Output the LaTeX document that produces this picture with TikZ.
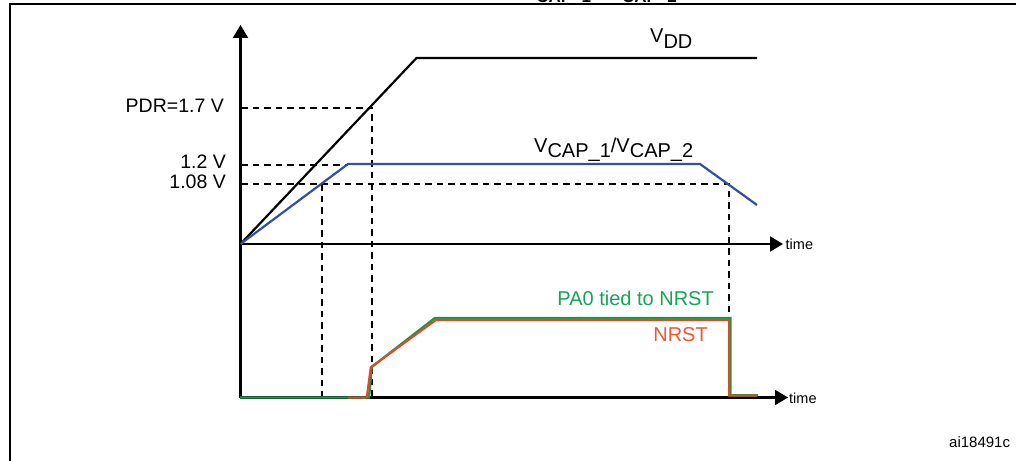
\documentclass[tikz,border=0pt]{standalone}
\usepackage{fontspec}
\setmainfont{Liberation Sans}
\usetikzlibrary{arrows.meta}
\definecolor{vcapblue}{RGB}{50,80,160}
\definecolor{pagreen}{RGB}{30,150,70}
\definecolor{nrstred}{RGB}{226,72,40}
\definecolor{patext}{RGB}{20,165,85}
\definecolor{nrsttext}{RGB}{232,90,50}
\tikzset{
  axisline/.style={line width=2.1pt,black},
  axishead/.style={-{Triangle[length=13pt,width=15pt]}},
  guide/.style={line width=2pt,black,dash pattern=on 6.5pt off 5pt},
  vddline/.style={line width=2.2pt,black,line join=miter},
  capline/.style={line width=2.2pt,vcapblue},
  paline/.style={line width=2.4pt,pagreen},
  nrstline/.style={line width=2pt,nrstred},
  lab/.style={inner sep=0pt,font=\fontsize{19.5}{19.5}\selectfont},
  siglab/.style={inner sep=0pt,font=\fontsize{20}{20}\selectfont},
  timelab/.style={inner sep=0pt,anchor=west,font=\fontsize{14.5}{14.5}\selectfont}
}
\newcommand{\subtxt}[2][4.5pt]{\raisebox{-#1}{#2}}
\begin{document}
\begin{tikzpicture}[x=1pt,y=-1pt]
\useasboundingbox (0,0) rectangle (1016,460);
\begin{scope}
\clip (0,0) rectangle (1016,460);
\fill[white] (0,0) rectangle (1016,460);
\node[inner sep=0pt,anchor=base west,font=\bfseries\fontsize{17}{17}\selectfont] (cut) at (522,-2) {V\subtxt{\,CAP\_1}\kern8pt/\kern4pt V\subtxt{\,CAP\_2}};
\draw[line width=2.4pt] (10,470) -- (10,4) -- (1030,4);
\end{scope}

\coordinate (O) at (240.5,244);
\coordinate (Ytop) at (240.5,25);
\coordinate (Ybot) at (240.5,398);
\coordinate (T1) at (783,244);
\coordinate (T2) at (788,397.5);

% guides
\coordinate (g17l) at (241,107.7);
\coordinate (g17r) at (372.3,107.7);
\coordinate (g17b) at (372.3,397);
\coordinate (g12l) at (241,165);
\coordinate (g12r) at (348,165);
\coordinate (g108l) at (241,184);
\coordinate (g108a) at (322,184);
\coordinate (g108ab) at (322,397);
\coordinate (g108r) at (729,184);
\coordinate (g108rb) at (729,397);
\draw[guide] (g17l) -- (g17r) -- (g17b);
\draw[guide] (g12l) -- (g12r);
\draw[guide] (g108l) -- (g108r) -- (g108rb);
\draw[guide] (g108a) -- (g108ab);

% axes
\draw[axisline,axishead] (Ybot) -- (Ytop);
\draw[axisline,axishead] (O) -- (T1);
\draw[axisline,axishead] (240,397.5) -- (T2);

% signals
\draw[vddline] (O) -- (416.5,58) -- (757,58);
\draw[capline] (O) -- (348,164) -- (700,164) -- (757,205);
\draw[paline] (240,397.5) -- (369,397.5) -- (371.7,367) -- (435,318) -- (730.5,318) -- (730.5,395.3) -- (758,395.3);
\draw[nrstline] (348,397.5) -- (366.7,397.5) -- (370.7,367.3) -- (436,320) -- (729,320) -- (729,395.5) -- (757,395.5);

% labels
\node[lab,anchor=base east] (pdr) at (224,112) {PDR=1.7 V};
\node[lab,anchor=base east] (v12) at (226,168) {1.2 V};
\node[lab,anchor=base east] (v108) at (226,188) {1.08 V};
\node[siglab,anchor=base west] (vdd) at (650,42) {V\subtxt[6pt]{DD}};
\node[siglab,anchor=base west] (vcap) at (534,152.5) {V\subtxt{CAP\_1}/V\subtxt{CAP\_2}};
\node[timelab] (t1) at (785.5,244) {time};
\node[timelab] (t2) at (789,398) {time};
\node[siglab,anchor=base east,text=patext] (pa) at (714,305) {PA0 tied to NRST};
\node[siglab,anchor=base east,text=nrsttext] (nrst) at (708,341) {NRST};
\node[timelab,font=\fontsize{15}{15}\selectfont] (ai) at (949,442) {ai18491c};
\end{tikzpicture}
\end{document}
